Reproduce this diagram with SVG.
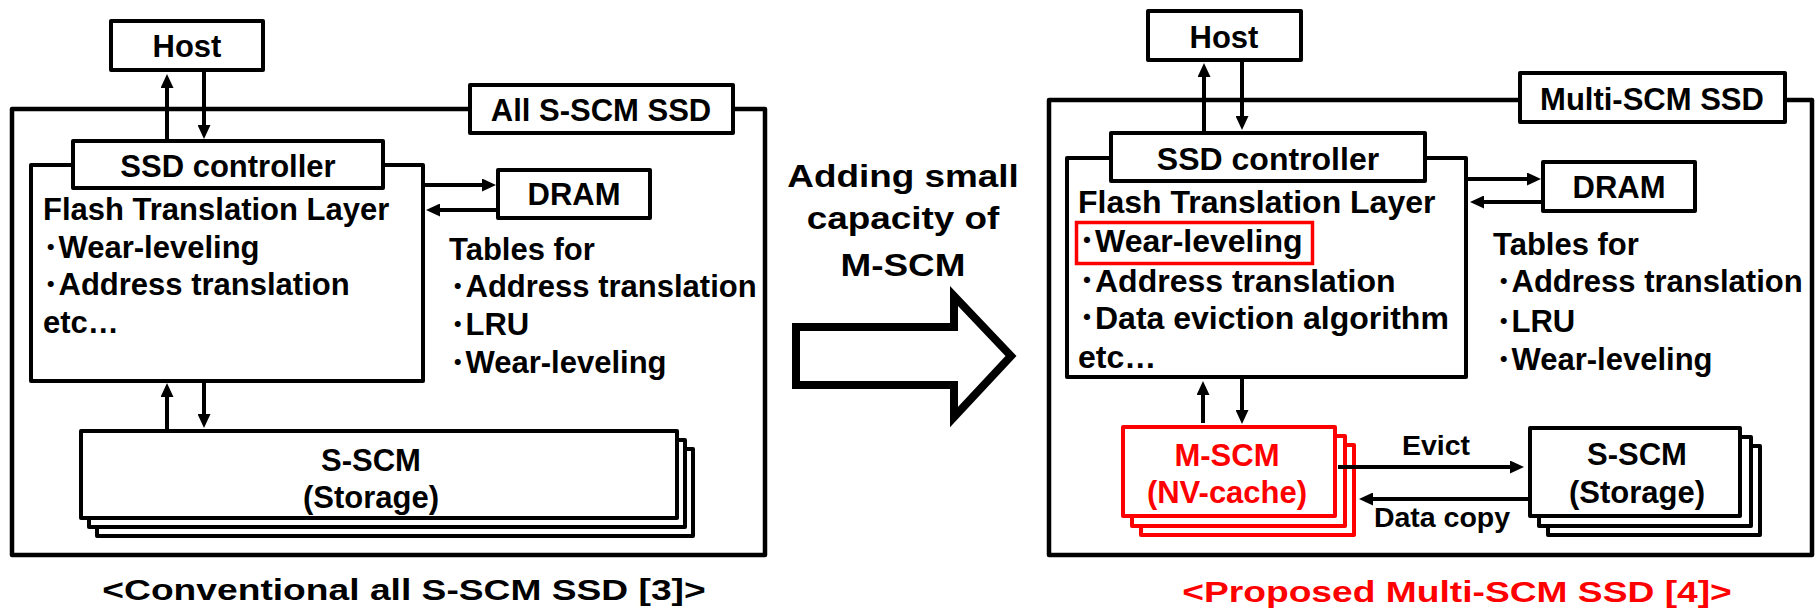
<svg xmlns="http://www.w3.org/2000/svg" width="1816" height="612" viewBox="0 0 1816 612">
<defs>
<style>
text{font-family:"Liberation Sans",Arial,"Noto Sans CJK JP",sans-serif;font-weight:bold;fill:#000}
.t31{font-size:31px}
.t32{font-size:32px}
.t28{font-size:28.5px}
.cap{font-size:30px}
.mtx{font-size:31.5px}
.mid{text-anchor:middle}
.red{fill:#FF0000}
.box{fill:#fff;stroke:#000;stroke-width:4;stroke-linejoin:round}
.outer{fill:none;stroke:#000;stroke-width:4.5;stroke-linejoin:round}
.rbox{fill:#fff;stroke:#FF0000;stroke-width:4;stroke-linejoin:round}
.hl{fill:none;stroke:#FF0000;stroke-width:3.5}
.ln{stroke:#000;stroke-width:4;fill:none;marker-end:url(#ah)}
</style>
<marker id="ah" markerUnits="userSpaceOnUse" markerWidth="14" markerHeight="13" viewBox="0 0 14 13" refX="3" refY="6.5" orient="auto">
<path d="M0,0 L14,6.5 L0,13 z" fill="#000"/>
</marker>
</defs>

<!-- LEFT: Conventional -->
<g id="left-outer">
<rect class="outer" x="12" y="109" width="753" height="446"/>
<rect class="box" x="470" y="85" width="263" height="48"/>
<text class="t31 mid" x="601" y="121">All S-SCM SSD</text>
</g>
<g id="left-host">
<rect class="box" x="111" y="21" width="152" height="49"/>
<text class="t31 mid" x="187" y="57">Host</text>
</g>
<g id="left-ftl">
<rect class="box" x="31" y="165" width="392" height="216"/>
<text class="t31" x="43" y="220">Flash Translation Layer</text>
<text class="t31" x="43" y="258">･Wear-leveling</text>
<text class="t31" x="43" y="295">･Address translation</text>
<text class="t31" x="43" y="333">etc…</text>
</g>
<g id="left-controller">
<rect class="box" x="73" y="141" width="310" height="47"/>
<text class="t31 mid" x="228" y="177">SSD controller</text>
</g>
<g id="left-dram">
<rect class="box" x="498" y="170" width="152" height="48"/>
<text class="t31 mid" x="574" y="205">DRAM</text>
</g>
<g id="left-tables">
<text class="t31" x="449" y="260">Tables for</text>
<text class="t31" x="450" y="297">･Address translation</text>
<text class="t31" x="450" y="335">･LRU</text>
<text class="t31" x="450" y="373">･Wear-leveling</text>
</g>
<g id="left-sscm">
<rect class="box" x="97" y="449" width="596" height="87"/>
<rect class="box" x="89" y="440" width="596" height="87"/>
<rect class="box" x="81" y="431" width="596" height="87"/>
<text class="t31 mid" x="371" y="471">S-SCM</text>
<text class="t31 mid" x="371" y="508">(Storage)</text>
</g>
<g id="left-caption">
<text class="cap mid" transform="translate(404,600) scale(1.24,1)" x="0" y="0">&lt;Conventional all S-SCM SSD [3]&gt;</text>
</g>

<!-- MIDDLE -->
<g id="middle">
<g transform="translate(903,0) scale(1.17,1)">
<text class="mtx mid" x="0" y="187">Adding small</text>
<text class="mtx mid" x="0" y="229">capacity of</text>
<text class="mtx mid" x="0" y="276">M-SCM</text>
</g>
<polygon points="796,327 954,327 954,296 1011,356 954,417 954,385 796,385" fill="#fff" stroke="#000" stroke-width="8" stroke-linejoin="miter"/>
</g>

<!-- RIGHT: Proposed -->
<g id="right-outer">
<rect class="outer" x="1049" y="100" width="763" height="455"/>
<rect class="box" x="1520" y="73" width="265" height="49"/>
<text class="t31 mid" x="1652" y="110">Multi-SCM SSD</text>
</g>
<g id="right-host">
<rect class="box" x="1148" y="11" width="153" height="49"/>
<text class="t31 mid" x="1224" y="48">Host</text>
</g>
<g id="right-ftl">
<rect class="box" x="1067" y="158" width="399" height="219"/>
<text class="t32" x="1078" y="213">Flash Translation Layer</text>
<rect class="hl" x="1076.5" y="222.5" width="236" height="41"/>
<text class="t32" x="1079" y="252">･Wear-leveling</text>
<text class="t32" x="1079" y="292">･Address translation</text>
<text class="t32" x="1079" y="329">･Data eviction algorithm</text>
<text class="t32" x="1078" y="368">etc…</text>
</g>
<g id="right-controller">
<rect class="box" x="1111" y="133" width="314" height="48"/>
<text class="t32 mid" x="1268" y="170">SSD controller</text>
</g>
<g id="right-dram">
<rect class="box" x="1543" y="162" width="152" height="49"/>
<text class="t31 mid" x="1619" y="198">DRAM</text>
</g>
<g id="right-tables">
<text class="t31" x="1493" y="255">Tables for</text>
<text class="t31" x="1496" y="292">･Address translation</text>
<text class="t31" x="1496" y="332">･LRU</text>
<text class="t31" x="1496" y="370">･Wear-leveling</text>
</g>
<g id="right-mscm">
<rect class="rbox" x="1141" y="445" width="213" height="90"/>
<rect class="rbox" x="1132" y="436" width="213" height="90"/>
<rect class="rbox" x="1123" y="427" width="212" height="89"/>
<text class="t31 mid red" x="1227" y="466">M-SCM</text>
<text class="t31 mid red" x="1227" y="503">(NV-cache)</text>
</g>
<g id="right-sscm">
<rect class="box" x="1548" y="446" width="212" height="89"/>
<rect class="box" x="1539" y="437" width="212" height="89"/>
<rect class="box" x="1530" y="428" width="210" height="88"/>
<text class="t31 mid" x="1637" y="465">S-SCM</text>
<text class="t31 mid" x="1637" y="503">(Storage)</text>
</g>
<g id="right-labels">
<text class="t28 mid" x="1436" y="455">Evict</text>
<text class="t28 mid" x="1442" y="527">Data copy</text>
</g>
<g id="right-caption">
<text class="cap mid red" transform="translate(1457,602) scale(1.24,1)" x="0" y="0">&lt;Proposed Multi-SCM SSD [4]&gt;</text>
</g>

<!-- CONNECTORS -->
<g id="connectors">
<line class="ln" x1="167" y1="139" x2="167" y2="85"/>
<line class="ln" x1="204" y1="72" x2="204" y2="128"/>
<line class="ln" x1="425" y1="185" x2="485" y2="185"/>
<line class="ln" x1="496" y1="210" x2="437" y2="210"/>
<line class="ln" x1="167" y1="429" x2="167" y2="394"/>
<line class="ln" x1="204" y1="383" x2="204" y2="417"/>

<line class="ln" x1="1204" y1="131" x2="1204" y2="74"/>
<line class="ln" x1="1242" y1="62" x2="1242" y2="119"/>
<line class="ln" x1="1468" y1="179" x2="1530" y2="179"/>
<line class="ln" x1="1541" y1="202" x2="1481" y2="202"/>
<line class="ln" x1="1203" y1="423" x2="1203" y2="392"/>
<line class="ln" x1="1242" y1="379" x2="1242" y2="413"/>
<line class="ln" x1="1338" y1="467" x2="1513" y2="467"/>
<line class="ln" x1="1528" y1="499" x2="1370" y2="499"/>
</g>
</svg>
